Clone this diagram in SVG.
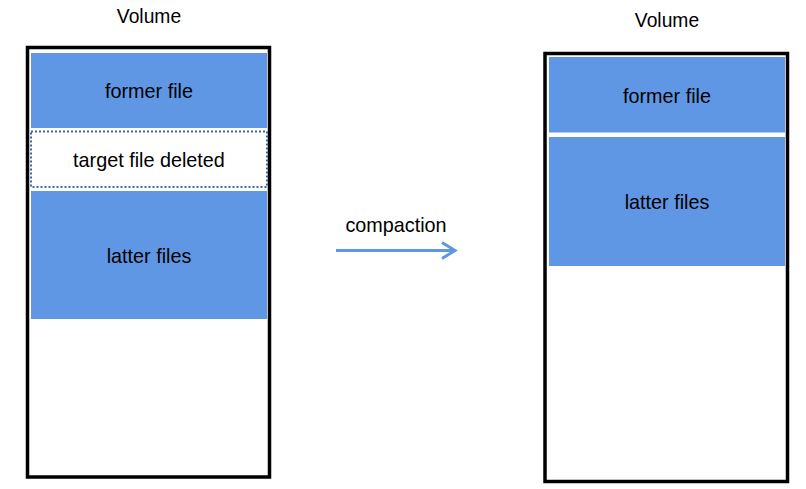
<svg xmlns="http://www.w3.org/2000/svg" width="806" height="489" viewBox="0 0 806 489">
<defs>
<style>
.t{font-family:"Liberation Sans",Arial,sans-serif;font-size:19.8px;fill:#000;text-anchor:middle}
.v{font-size:19.3px}
.vol{fill:#fff;stroke:#000;stroke-width:3.5}
.blk{fill:#5f97e4}
.del{fill:#fff;stroke:#3f68a8;stroke-width:2;stroke-dasharray:2 2}
.conn{stroke:#5f97e4;stroke-width:3;fill:none}
</style>
</defs>
<rect width="806" height="489" fill="#fff"/>
<g id="left-volume">
<text class="t v" x="149" y="22.5">Volume</text>
<rect class="vol" x="27.5" y="47.5" width="242" height="429.5"/>
</g>
<g id="left-former">
<rect class="blk" x="31" y="53" width="236" height="75"/>
<text class="t" x="149" y="97.5">former file</text>
</g>
<g id="left-deleted">
<rect class="del" x="31" y="131.5" width="236" height="55.5"/>
<text class="t" x="149" y="166.5">target file deleted</text>
</g>
<g id="left-latter">
<rect class="blk" x="31" y="191" width="236" height="128"/>
<text class="t" x="149" y="262.5">latter files</text>
</g>
<g id="right-volume">
<text class="t v" x="667" y="26.5">Volume</text>
<rect class="vol" x="545" y="53.5" width="242.5" height="428"/>
</g>
<g id="right-former">
<rect class="blk" x="549" y="57" width="236" height="75.5"/>
<text class="t" x="667" y="102.5">former file</text>
</g>
<g id="right-latter">
<rect class="blk" x="549" y="137" width="236" height="129"/>
<text class="t" x="667" y="208.5">latter files</text>
</g>
<g id="connectors">
<text class="t" x="396" y="231.5">compaction</text>
<path class="conn" d="M336 250.5H455"/>
<path class="conn" d="M442 242.5L455 250.5L442 258.5"/>
</g>
</svg>
